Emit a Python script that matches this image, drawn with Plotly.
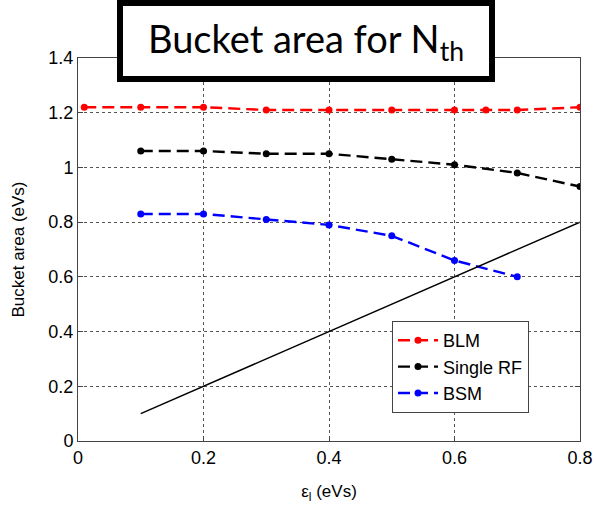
import plotly.graph_objects as go

# Data
blm_x = [0.01, 0.1, 0.2, 0.3, 0.4, 0.5, 0.6, 0.65, 0.7, 0.8]
blm_y = [1.22, 1.22, 1.22, 1.21, 1.21, 1.21, 1.21, 1.21, 1.21, 1.22]
srf_x = [0.1, 0.2, 0.3, 0.4, 0.5, 0.6, 0.7, 0.8]
srf_y = [1.06, 1.06, 1.05, 1.05, 1.03, 1.01, 0.98, 0.93]
bsm_x = [0.1, 0.2, 0.3, 0.4, 0.5, 0.6, 0.7]
bsm_y = [0.83, 0.83, 0.81, 0.79, 0.75, 0.66, 0.60]
ref_x = [0.1, 0.8]
ref_y = [0.1, 0.8]

x_ticks = [0, 0.2, 0.4, 0.6, 0.8]
x_labels = ["0", "0.2", "0.4", "0.6", "0.8"]
y_ticks = [0, 0.2, 0.4, 0.6, 0.8, 1.0, 1.2, 1.4]
y_labels = ["0", "0.2", "0.4", "0.6", "0.8", "1", "1.2", "1.4"]

fig = go.Figure()
dash = "12px,6px"
fig.add_trace(go.Scatter(x=blm_x, y=blm_y, name="BLM", mode="lines+markers",
                         line=dict(color="#ff0000", width=2.4, dash=dash),
                         marker=dict(color="#ff0000", size=7, symbol="circle")))
fig.add_trace(go.Scatter(x=srf_x, y=srf_y, name="Single RF", mode="lines+markers",
                         line=dict(color="#000000", width=2.4, dash=dash),
                         marker=dict(color="#000000", size=7, symbol="circle")))
fig.add_trace(go.Scatter(x=bsm_x, y=bsm_y, name="BSM", mode="lines+markers",
                         line=dict(color="#0000ff", width=2.4, dash=dash),
                         marker=dict(color="#0000ff", size=7, symbol="circle")))
fig.add_trace(go.Scatter(x=ref_x, y=ref_y, mode="lines", showlegend=False,
                         line=dict(color="#000000", width=1.5)))

axis_common = dict(showline=True, linecolor="#444444", linewidth=1, mirror="ticks",
                   ticks="inside", ticklen=5, tickcolor="#444444",
                   showgrid=True, gridcolor="#555555", griddash="dot", gridwidth=1,
                   zeroline=False, automargin=False,
                   tickfont=dict(family="Liberation Sans, Arial", size=18, color="#000000"))

fig.update_xaxes(range=[0, 0.8], tickvals=x_ticks, ticktext=x_labels,
                 title=dict(text="ε<sub>l</sub> (eVs)", standoff=18,
                            font=dict(family="Liberation Sans, Arial", size=17, color="#000000")),
                 **axis_common)
fig.update_yaxes(range=[0, 1.4], tickvals=y_ticks, ticktext=y_labels,
                 title=dict(text="Bucket area (eVs)", standoff=19,
                            font=dict(family="Liberation Sans, Arial", size=17, color="#000000")),
                 **axis_common)

L, T = 78, 58
W, H = 502, 383
fig.update_layout(
    width=597, height=506,
    margin=dict(l=L, r=597 - L - W, t=T, b=506 - T - H),
    paper_bgcolor="white", plot_bgcolor="white",
    showlegend=True,
    legend=dict(x=(392 - L) / W, y=(441 - 321) / H, xanchor="left", yanchor="top",
                bgcolor="white", bordercolor="#444444", borderwidth=1,
                font=dict(family="Liberation Sans, Arial", size=18, color="#000000"),
                tracegroupgap=0, itemwidth=40),
    annotations=[
        dict(text="ε<sub>l</sub> (eVs)", xref="paper", yref="paper",
             x=(381 - L) / W, y=(441 - 13) / H, xanchor="center", yanchor="bottom",
             showarrow=False, font=dict(family="Liberation Sans, Arial", size=18, color="#0a3a0a")),
        dict(text="Bucket area for N<sub>th</sub>", xref="paper", yref="paper",
             x=(305.5 - L) / W, y=(441 - 41) / H, xanchor="center", yanchor="middle",
             showarrow=False, width=366, height=70, borderpad=0, borderwidth=6,
             bordercolor="#000000", bgcolor="white",
             font=dict(family="Lato, Carlito, sans-serif", size=38, color="#000000")),
    ],
)

fig.write_html("out.html")
